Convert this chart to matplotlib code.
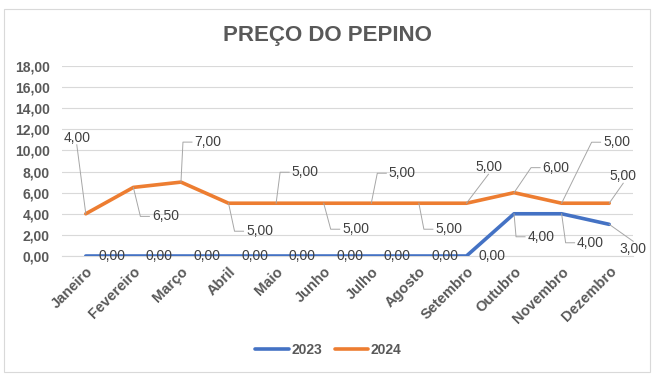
import matplotlib
matplotlib.use("Agg")
import matplotlib.pyplot as plt
from matplotlib.lines import Line2D
from matplotlib.patches import Rectangle
from matplotlib.transforms import IdentityTransform

plt.rcParams['font.family'] = ['Liberation Sans', 'DejaVu Sans']

meses = ['Janeiro', 'Fevereiro', 'Março', 'Abril', 'Maio', 'Junho', 'Julho',
         'Agosto', 'Setembro', 'Outubro', 'Novembro', 'Dezembro']
precos_2023 = [0, 0, 0, 0, 0, 0, 0, 0, 0, 4, 4, 3]
precos_2024 = [4, 6.5, 7, 5, 5, 5, 5, 5, 5, 6, 5, 5]
yticks = [0, 2, 4, 6, 8, 10, 12, 14, 16, 18]

# label offsets in pixels (dx, dy) and whether a leader line is drawn
off_2023 = [(26, 0)] * 9 + [(27, -23), (29, -29), (24, -25)]
lead_2023 = [False] * 9 + [True, True, True]
off_2024 = [(-9, 76), (32, -29), (27, 40), (31, -28), (29, 31), (32, -26),
            (31, 30), (30, -26), (22, 36), (42, 25), (55, 61), (14, 27)]
lead_2024 = [True] * 12

AZUL = '#4472C4'
LARANJA = '#ED7D31'
CINZA = '#595959'
GRADE = '#D9D9D9'


def fmt(v):
    return f"{v:.2f}".replace('.', ',')


fig = plt.figure(figsize=(6.58, 3.80), dpi=100)
fig.patches.append(Rectangle((4 / 658, 8 / 380), 646 / 658, 363 / 380,
                             transform=fig.transFigure, fill=False,
                             edgecolor=GRADE, lw=0.8))
ax = fig.add_axes([62 / 658, 1 - 256 / 380, 571 / 658, 190 / 380])

x = list(range(len(meses)))
ax.plot(x, precos_2023, color=AZUL, lw=2.6, solid_capstyle='round', label='2023', zorder=3)
ax.plot(x, precos_2024, color=LARANJA, lw=2.6, solid_capstyle='round', label='2024', zorder=3)

ax.set_xlim(-0.5, len(meses) - 0.5)
ax.set_ylim(0, 18)
ax.set_yticks(yticks)
ax.set_yticklabels([fmt(v) for v in yticks])
ax.set_xticks(x)
ax.set_xticklabels(meses, rotation=45, ha='right', va='top', rotation_mode='anchor')
ax.yaxis.grid(True, color=GRADE, lw=0.8)
ax.set_axisbelow(True)
for s in ['left', 'right', 'top']:
    ax.spines[s].set_visible(False)
ax.spines['bottom'].set_color(GRADE)
ax.tick_params(axis='both', length=0, colors=CINZA)
ax.tick_params(axis='y', pad=9, labelsize=10)
ax.tick_params(axis='x', pad=6, labelsize=10.5)
for t in ax.get_xticklabels() + ax.get_yticklabels():
    t.set_fontweight('bold')

fig.text(0.497, 1 - 35 / 380, 'PREÇO DO PEPINO', ha='center', va='center',
         fontsize=16, fontweight='bold', color=CINZA)


def rotular(valores, offsets, leaders):
    for i, v in enumerate(valores):
        dx, dy = offsets[i]
        ax.annotate(fmt(v), (i, v), xytext=(dx, dy), textcoords='offset pixels',
                    ha='center', va='center', fontsize=10, color='#404040', zorder=5)
        if not leaders[i]:
            continue
        px, py = ax.transData.transform((i, v))
        lx, ly = px + dx, py + dy
        if abs(dx) < 25:
            ey = ly - 7 if dy > 0 else ly + 8
            xs, ys = [px, lx], [py, ey]
        else:
            hx = lx - 13 - 3
            xs, ys = [px, hx - 9, hx], [py, ly, ly]
        fig.add_artist(Line2D(xs, ys, transform=IdentityTransform(),
                              color='#A6A6A6', lw=0.7, zorder=4))


rotular(precos_2023, off_2023, lead_2023)
rotular(precos_2024, off_2024, lead_2024)

leg = fig.legend(loc='center', bbox_to_anchor=(0.499, 1 - 350 / 380), ncol=2,
                 frameon=False, handlelength=2.4, handletextpad=0.2,
                 columnspacing=0.9, prop={'weight': 'bold', 'size': 10})
for t in leg.get_texts():
    t.set_color(CINZA)

fig.savefig('out.png', dpi=100)
